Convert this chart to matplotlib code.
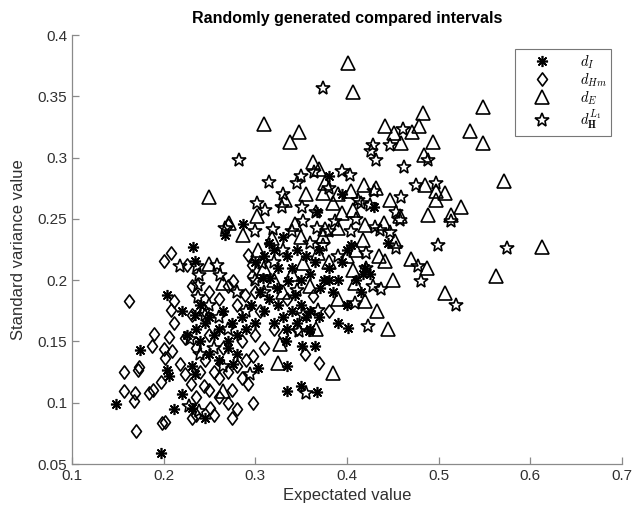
import matplotlib
matplotlib.use("Agg")
import matplotlib.pyplot as plt
from matplotlib.path import Path
import numpy as np

# ----------------------------------------------------------------------------------------------------------------------
# Values (expected value, standard variance value)

d_i_x = [0.148, 0.174, 0.197, 0.2036, 0.2036, 0.2058, 0.220, 0.211, 0.231, 0.245, 0.231, 0.234, 0.232, 0.234,
         0.234, 0.303, 0.2756, 0.3335, 0.3345, 0.351, 0.365, 0.3345, 0.3494, 0.367, 0.3585, 0.401, 0.316, 0.3356,
         0.343, 0.3705, 0.308, 0.3236, 0.367, 0.2865, 0.267,
         0.300, 0.310, 0.315, 0.320, 0.325, 0.330, 0.335, 0.340, 0.345, 0.350, 0.355, 0.360, 0.365, 0.370, 0.375,
         0.380, 0.385, 0.390, 0.395, 0.400, 0.410, 0.415, 0.420, 0.425,
         0.240, 0.245, 0.250, 0.255, 0.260, 0.265, 0.270, 0.275, 0.280, 0.285, 0.290, 0.295, 0.300, 0.305, 0.310,
         0.315, 0.320, 0.325, 0.330, 0.335, 0.340, 0.345, 0.350, 0.355, 0.360, 0.250, 0.260, 0.270, 0.280, 0.240,
         0.235, 0.220, 0.225,
         0.380, 0.395, 0.430, 0.445, 0.418, 0.400, 0.390, 0.380, 0.370, 0.360, 0.404]
d_i_y = [0.099, 0.143, 0.059, 0.188, 0.1267, 0.122, 0.107, 0.095, 0.0957, 0.0875, 0.130, 0.1234, 0.227, 0.2156,
         0.1716, 0.1283, 0.1316, 0.1504, 0.130, 0.1463, 0.1463, 0.1096, 0.1136, 0.1087, 0.1585, 0.161, 0.202, 0.1993,
         0.188, 0.1936, 0.202, 0.1936, 0.256, 0.246, 0.237,
         0.215, 0.220, 0.230, 0.225, 0.210, 0.235, 0.220, 0.210, 0.225, 0.200, 0.220, 0.205, 0.215, 0.225, 0.200,
         0.210, 0.190, 0.200, 0.215, 0.225, 0.200, 0.190, 0.210, 0.205,
         0.180, 0.165, 0.170, 0.155, 0.160, 0.175, 0.150, 0.165, 0.155, 0.170, 0.160, 0.180, 0.165, 0.190, 0.175,
         0.185, 0.165, 0.180, 0.170, 0.160, 0.175, 0.165, 0.180, 0.170, 0.160, 0.140, 0.135, 0.145, 0.140, 0.150,
         0.160, 0.175, 0.155,
         0.285, 0.270, 0.260, 0.230, 0.205, 0.180, 0.165, 0.200, 0.170, 0.175, 0.229]

d_hm_x = [0.208, 0.200, 0.2255, 0.231, 0.162, 0.211, 0.208, 0.231, 0.244, 0.189, 0.187, 0.211, 0.157, 0.172, 0.1735,
          0.157, 0.169, 0.1677, 0.184, 0.188, 0.197, 0.1698, 0.198, 0.2015, 0.2015, 0.209, 0.218, 0.223, 0.244,
          0.206, 0.231, 0.223, 0.200, 0.2975, 0.292, 0.2975, 0.2745, 0.2505, 0.354, 0.3695, 0.292, 0.296, 0.296,
          0.2756, 0.2887, 0.363, 0.305,
          0.235, 0.245, 0.250, 0.255, 0.260, 0.265, 0.270, 0.275, 0.280, 0.285, 0.240, 0.230, 0.235, 0.250, 0.260,
          0.270, 0.285, 0.290, 0.300, 0.310, 0.320, 0.330, 0.260, 0.270, 0.280, 0.250, 0.300, 0.335, 0.345, 0.380,
          0.255, 0.280, 0.235, 0.270]
d_hm_y = [0.222, 0.2155, 0.2124, 0.1952, 0.183, 0.183, 0.1756, 0.1716, 0.1756, 0.156, 0.146, 0.165, 0.125, 0.127,
          0.129, 0.1096, 0.108, 0.1014, 0.108, 0.110, 0.117, 0.077, 0.0835, 0.084, 0.1365, 0.142, 0.1316, 0.1234,
          0.1136, 0.154, 0.0875, 0.1528, 0.144, 0.138, 0.1153, 0.0998, 0.0875, 0.0957, 0.140, 0.1324, 0.2205, 0.2126,
          0.2034, 0.1993, 0.188, 0.187, 0.175,
          0.145, 0.135, 0.155, 0.125, 0.120, 0.145, 0.125, 0.110, 0.130, 0.120, 0.125, 0.115, 0.105, 0.110, 0.105,
          0.100, 0.150, 0.135, 0.155, 0.145, 0.160, 0.155, 0.185, 0.195, 0.180, 0.190, 0.190, 0.185, 0.160, 0.175,
          0.090, 0.095, 0.090, 0.245]

d_e_x = [0.401, 0.4065, 0.309, 0.348, 0.338, 0.363, 0.369, 0.483, 0.441, 0.451, 0.4785, 0.471, 0.459, 0.4935, 0.484,
         0.534, 0.548, 0.548, 0.571, 0.6127, 0.5625, 0.4185, 0.432, 0.485, 0.497, 0.507, 0.447, 0.497, 0.524, 0.488,
         0.514, 0.458, 0.4065, 0.440, 0.4175, 0.452, 0.4415, 0.470, 0.487, 0.4065, 0.409, 0.507, 0.4195, 0.433, 0.404,
         0.250, 0.302, 0.332, 0.376, 0.374, 0.385, 0.343, 0.271, 0.2865, 0.318, 0.376, 0.390, 0.374, 0.303, 0.352,
         0.368, 0.250, 0.2647, 0.2647, 0.327, 0.3247, 0.3847, 0.366, 0.445,
         0.330, 0.340, 0.350, 0.360, 0.380, 0.390, 0.400, 0.395, 0.410, 0.420, 0.435, 0.450, 0.355, 0.390, 0.310,
         0.320]
d_e_y = [0.377, 0.3535, 0.327, 0.321, 0.313, 0.296, 0.291, 0.336, 0.326, 0.320, 0.326, 0.321, 0.312, 0.313, 0.302,
         0.322, 0.341, 0.312, 0.281, 0.227, 0.203, 0.278, 0.275, 0.278, 0.273, 0.271, 0.265, 0.265, 0.260, 0.253,
         0.253, 0.252, 0.257, 0.247, 0.233, 0.232, 0.2155, 0.217, 0.210, 0.208, 0.198, 0.1895, 0.183, 0.175, 0.273,
         0.268, 0.252, 0.265, 0.279, 0.271, 0.263, 0.246, 0.2466, 0.237, 0.234, 0.242, 0.2425, 0.236, 0.2246, 0.214,
         0.222, 0.213, 0.1977, 0.1097, 0.148, 0.1324, 0.1242, 0.160, 0.160,
         0.190, 0.205, 0.235, 0.195, 0.215, 0.185, 0.220, 0.255, 0.225, 0.245, 0.220, 0.200, 0.270, 0.270, 0.210,
         0.200]

d_h_x = [0.374, 0.282, 0.3945, 0.364, 0.461, 0.428, 0.426, 0.432, 0.447, 0.462, 0.488, 0.403, 0.5745, 0.429, 0.475,
         0.497, 0.459, 0.514, 0.453, 0.458, 0.415, 0.425, 0.412, 0.4305, 0.436, 0.447, 0.404, 0.453, 0.499, 0.421,
         0.4775, 0.421, 0.4807, 0.428, 0.437, 0.519, 0.409, 0.302, 0.311, 0.329, 0.351, 0.345, 0.366, 0.352, 0.387,
         0.267, 0.2996, 0.319, 0.367, 0.374, 0.307, 0.258, 0.2615, 0.368, 0.352, 0.345, 0.218, 0.2364, 0.2385,
         0.2375, 0.2375, 0.245, 0.2276, 0.2385, 0.2287, 0.294, 0.3553, 0.3476, 0.423,
         0.250, 0.260, 0.270, 0.280, 0.290, 0.300, 0.310, 0.320, 0.330, 0.340, 0.360, 0.380, 0.390, 0.410, 0.255,
         0.240, 0.265, 0.330, 0.315, 0.350, 0.380]
d_h_y = [0.357, 0.298, 0.289, 0.288, 0.323, 0.310, 0.305, 0.298, 0.310, 0.292, 0.298, 0.286, 0.226, 0.273, 0.278,
         0.279, 0.268, 0.248, 0.256, 0.249, 0.263, 0.261, 0.265, 0.243, 0.241, 0.239, 0.240, 0.226, 0.229, 0.222,
         0.2115, 0.210, 0.1993, 0.195, 0.193, 0.180, 0.181, 0.263, 0.257, 0.260, 0.260, 0.279, 0.256, 0.248, 0.248,
         0.2425, 0.240, 0.242, 0.2425, 0.229, 0.214, 0.2124, 0.204, 0.1756, 0.1716, 0.192, 0.2115, 0.2115, 0.2042,
         0.196, 0.186, 0.1716, 0.097, 0.0933, 0.152, 0.1234, 0.108, 0.1585, 0.1626,
         0.180, 0.170, 0.160, 0.190, 0.175, 0.200, 0.190, 0.215, 0.225, 0.240, 0.230, 0.240, 0.220, 0.250, 0.145,
         0.140, 0.130, 0.270, 0.280, 0.285, 0.275]

x_ticks = [0.1, 0.2, 0.3, 0.4, 0.5, 0.6, 0.7]
y_ticks = [0.05, 0.1, 0.15, 0.2, 0.25, 0.3, 0.35, 0.4]
series_labels = [r"$d_I$", r"$d_{Hm}$", r"$d_E$", r"$d_{\mathbf{H}}^{L_1}$"]
# ----------------------------------------------------------------------------------------------------------------------


def plot_data():

    plt.rcParams['font.family'] = ['Liberation Sans', 'DejaVu Sans']
    plt.rcParams['mathtext.fontset'] = 'cm'

    fig = plt.figure(figsize=(6.33, 5.18), dpi=100)
    ax = fig.add_axes([0.1137, 0.1042, 0.8689, 0.8282])

    # MATLAB style markers: asterisk, tall diamond, triangle, pentagram
    diamond = Path([(0, 1), (0.75, 0), (0, -1), (-0.75, 0), (0, 1)],
                   [Path.MOVETO, Path.LINETO, Path.LINETO, Path.LINETO, Path.CLOSEPOLY])

    ax.plot(d_i_x, d_i_y, linestyle='none', marker=(8, 2, 0), markersize=8, color='black',
            markeredgewidth=1.2, label=series_labels[0])
    ax.plot(d_hm_x, d_hm_y, linestyle='none', marker=diamond, markersize=9.5, markerfacecolor='none',
            markeredgecolor='black', markeredgewidth=1.2, label=series_labels[1])
    ax.plot(d_e_x, d_e_y, linestyle='none', marker='^', markersize=10.5, markerfacecolor='none',
            markeredgecolor='black', markeredgewidth=1.2, label=series_labels[2])
    ax.plot(d_h_x, d_h_y, linestyle='none', marker='*', markersize=10, markerfacecolor='none',
            markeredgecolor='black', markeredgewidth=1.2, label=series_labels[3])

    ax.set_xlim(0.1, 0.7)
    ax.set_ylim(0.05, 0.4)
    ax.set_xticks(x_ticks)
    ax.set_yticks(y_ticks)
    ax.set_xticklabels(["%g" % v for v in x_ticks])
    ax.set_yticklabels(["%g" % v for v in y_ticks])

    for side in ['top', 'right']:
        ax.spines[side].set_visible(False)
    for side in ['left', 'bottom']:
        ax.spines[side].set_color('#8a8a8a')
        ax.spines[side].set_linewidth(0.9)
    ax.tick_params(direction='in', length=5, width=0.9, color='#8a8a8a', labelcolor='#303030', labelsize=11)

    ax.set_title('Randomly generated compared intervals', fontsize=11.5, fontweight='bold', color='black', pad=9)
    ax.set_xlabel('Expectated value', fontsize=12, color='#303030')
    ax.set_ylabel('Standard variance value', fontsize=12, color='#303030', labelpad=8)

    leg = ax.legend(loc='upper right', bbox_to_anchor=(0.985, 0.975), fontsize=10.5, frameon=True, fancybox=False,
                    edgecolor='#555555', handletextpad=1.1, handlelength=3.0, borderpad=0.3, labelspacing=0.05,
                    borderaxespad=0.2)
    leg.get_frame().set_linewidth(0.8)

    fig.savefig('out.png', dpi=100)


# ----------------------------------------------------------------------------------------------------------------------
if __name__ == "__main__":

    plot_data()
